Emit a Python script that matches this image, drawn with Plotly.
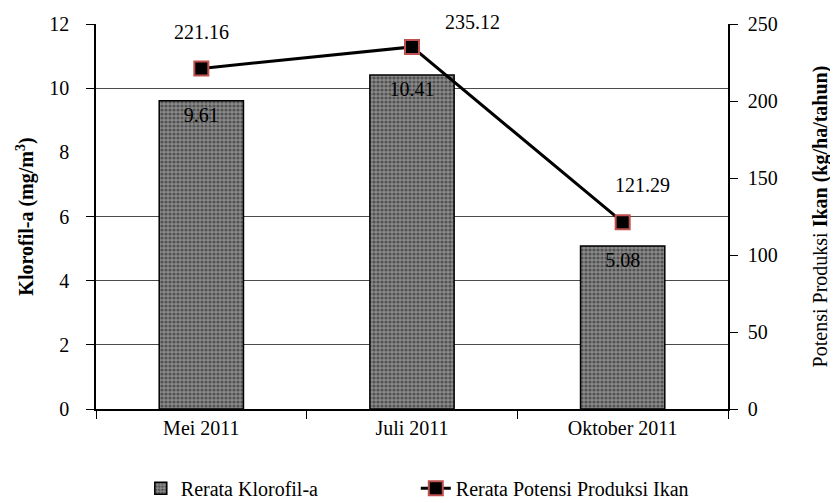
import plotly.graph_objects as go

# data
bulan = ['Mei 2011', 'Juli 2011', 'Oktober 2011']
klorofil = [9.61, 10.41, 5.08]
potensi_ikan = [221.16, 235.12, 121.29]

left_ticks = [0, 2, 4, 6, 8, 10, 12]
grid_ticks = [0, 2, 4, 6, 10, 12]   # no line at 8 in the original
right_ticks = [0, 50, 100, 150, 200, 250]

FONT = 'Liberation Serif, Times New Roman, serif'

fig = go.Figure()

# bars - chlorophyll
fig.add_trace(go.Bar(
    x=bulan,
    y=klorofil,
    name='Rerata Klorofil-a',
    text=[f'{v:.2f}' for v in klorofil],
    textposition='inside',
    insidetextanchor='end',
    textangle=0,
    textfont=dict(family=FONT, size=20, color='black'),
    marker=dict(
        color='#7a7a7a',
        line=dict(color='black', width=1.5),
        pattern=dict(shape='.', fgcolor='#1a1a1a', bgcolor='#8a8a8a', size=4, solidity=0.5),
    ),
    yaxis='y',
))

# line - fish production potential
fig.add_trace(go.Scatter(
    x=bulan,
    y=potensi_ikan,
    name='Rerata Potensi Produksi Ikan',
    mode='lines+markers',
    line=dict(color='black', width=3),
    marker=dict(symbol='square', size=14, color='black', line=dict(color='#c0504d', width=2)),
    yaxis='y2',
))

# invisible helper trace so the grid axis gets drawn
fig.add_trace(go.Scatter(
    x=bulan, y=[None] * len(bulan), yaxis='y3',
    showlegend=False, hoverinfo='skip', mode='lines',
))

# labels above the line points
label_dx = [0, 60, 20]
label_dy = [36, 25, 37]
for b, v, dx, dy in zip(bulan, potensi_ikan, label_dx, label_dy):
    fig.add_annotation(
        x=b, y=v, xref='x', yref='y2',
        text=f'{v:.2f}', showarrow=False,
        xshift=dx, yshift=dy,
        font=dict(family=FONT, size=20, color='black'),
    )

# page body adds an 8px margin, so the figure is 8px smaller on each axis
fig.update_layout(
    width=830,
    height=495,
    plot_bgcolor='white',
    paper_bgcolor='white',
    margin=dict(l=88, r=110, t=16, b=94),
    font=dict(family=FONT, size=20, color='black'),
    bargap=0.6,
    showlegend=True,
    legend=dict(
        orientation='h',
        x=0.506, xanchor='center',
        yref='container', y=0.03, yanchor='middle',
        font=dict(family=FONT, size=20, color='black'),
        entrywidth=230,
        traceorder='normal',
    ),
    xaxis=dict(
        showline=True, linecolor='black', linewidth=1.5,
        ticks='outside', tickson='boundaries', ticklen=8, tickcolor='black',
        showgrid=False, automargin=False,
        tickfont=dict(family=FONT, size=20),
    ),
    yaxis=dict(
        range=[0, 12],
        tickvals=left_ticks,
        ticks='outside', ticklen=9, tickcolor='rgba(0,0,0,0)',
        ticklabelstandoff=12,
        showgrid=False, zeroline=False, automargin=False,
        showline=True, linecolor='black', linewidth=1.5,
        title=dict(text='<b>Klorofil-a (mg/m<sup>3</sup>)</b>', font=dict(family=FONT, size=20), standoff=10),
        tickfont=dict(family=FONT, size=20),
    ),
    yaxis2=dict(
        range=[0, 250],
        tickvals=right_ticks,
        overlaying='y', side='right', anchor='x',
        ticks='outside', ticklen=8, tickcolor='black',
        ticklabelstandoff=6,
        showgrid=False, zeroline=False, automargin=False,
        showline=True, linecolor='black', linewidth=1.5,
        title=dict(text='Potensi Produksi <b>Ikan (kg/ha/tahun)</b>', font=dict(family=FONT, size=20), standoff=36),
        tickfont=dict(family=FONT, size=20),
    ),
    yaxis3=dict(
        range=[0, 12],
        tickvals=grid_ticks,
        overlaying='y', side='left', anchor='x',
        showticklabels=False,
        ticks='outside', ticklen=9, tickcolor='black',
        showgrid=True, gridcolor='#4a4a4a', gridwidth=1.2,
        zeroline=False, showline=False, automargin=False,
    ),
)

fig.write_html('out.html')
